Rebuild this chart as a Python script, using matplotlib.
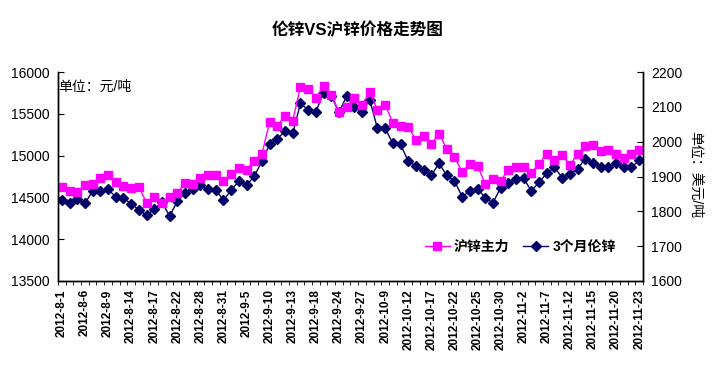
import numpy as np
import matplotlib
matplotlib.use("Agg")
import matplotlib.pyplot as plt

plt.rcParams['font.family'] = ['Liberation Sans', 'Noto Sans CJK SC', 'DejaVu Sans']

tick_labels = ['2012-8-1', '2012-8-6', '2012-8-9', '2012-8-14', '2012-8-17',
               '2012-8-22', '2012-8-28', '2012-8-31', '2012-9-5', '2012-9-10',
               '2012-9-13', '2012-9-18', '2012-9-24', '2012-9-27', '2012-10-9',
               '2012-10-12', '2012-10-17', '2012-10-22', '2012-10-25', '2012-10-30',
               '2012-11-2', '2012-11-7', '2012-11-12', '2012-11-15', '2012-11-20',
               '2012-11-23']

# 沪锌主力, 元/吨 (left axis)
shfe = [14628, 14580, 14565, 14652, 14664, 14736, 14772, 14688, 14640, 14616,
        14628, 14437, 14500, 14430, 14500, 14556, 14672, 14664, 14736, 14772,
        14772, 14700, 14784, 14856, 14832, 14940, 15023, 15406, 15358, 15477,
        15418, 15824, 15800, 15693, 15836, 15729, 15525, 15585, 15689, 15609,
        15761, 15549, 15609, 15394, 15358, 15346, 15190, 15234, 15142, 15262,
        15083, 14983, 14808, 14900, 14876, 14664, 14716, 14700, 14828, 14867,
        14867, 14796, 14900, 15023, 14947, 15007, 14887, 15023, 15115, 15127,
        15055, 15067, 15019, 14975, 15023, 15071]

# 3个月伦锌, 美元/吨 (right axis)
lme = [1832, 1823, 1835, 1823, 1858, 1858, 1864, 1841, 1839, 1821,
       1805, 1789, 1806, 1827, 1786, 1829, 1854, 1864, 1875, 1864,
       1861, 1832, 1861, 1887, 1875, 1901, 1944, 1993, 2009, 2030,
       2024, 2110, 2091, 2086, 2141, 2132, 2084, 2131, 2099, 2086,
       2120, 2038, 2038, 1995, 1992, 1944, 1930, 1918, 1903, 1938,
       1903, 1888, 1842, 1858, 1865, 1839, 1824, 1868, 1880, 1893,
       1895, 1858, 1884, 1909, 1926, 1897, 1907, 1922, 1951, 1938,
       1926, 1926, 1938, 1926, 1926, 1947]

x = np.arange(len(shfe))

fig = plt.figure(figsize=(7.16, 3.69), dpi=100)
ax = fig.add_axes([58 / 716, 1 - 281 / 369, 585 / 716, 209 / 369])
ax2 = ax.twinx()

l1, = ax.plot(x, shfe, color='#FF00FF', marker='s', markersize=5.5, linewidth=1,
              label='沪锌主力')
l2, = ax2.plot(x, lme, color='#000066', marker='D', markersize=5, linewidth=1,
               label='3个月伦锌')
ax.set_zorder(ax2.get_zorder() + 1)
ax.patch.set_visible(False)

ax.set_xlim(-0.5, len(x) - 0.5)
ax.set_ylim(13500, 16000)
ax2.set_ylim(1600, 2200)
ax.set_yticks(np.arange(13500, 16001, 500))
ax2.set_yticks(np.arange(1600, 2201, 100))

ax.set_xticks(np.arange(0, len(x), 3))
ax.set_xticklabels(tick_labels, rotation=90, fontsize=8.5, fontweight='bold')
ax.set_xticks(np.arange(-0.5, len(x), 1), minor=True)
ax.tick_params(axis='x', which='major', length=0, pad=6)
ax.tick_params(axis='x', which='minor', length=3, direction='out')
ax.tick_params(axis='y', direction='in', length=4, labelsize=10, pad=6)
ax2.tick_params(axis='y', direction='in', length=4, labelsize=10, pad=6)

for a in (ax, ax2):
    a.spines['top'].set_visible(False)
    for s in ('left', 'right', 'bottom'):
        a.spines[s].set_linewidth(1)

ax.text(0.0, 0.93, '单位：元/吨', transform=ax.transAxes, fontsize=10,
        ha='left', va='center')
fig.text(695 / 716, 1 - 175 / 369, '单位：美元/吨', rotation=270, fontsize=10,
         ha='center', va='center')
fig.text(0.5, 1 - 30 / 369, '伦锌VS沪锌价格走势图', fontsize=12, fontweight='bold',
         ha='center', va='center')

ax.legend(handles=[l1, l2], loc='center', bbox_to_anchor=(0.79, 0.165), ncol=2,
          frameon=False, prop={'weight': 'bold', 'size': 10},
          handlelength=1.8, columnspacing=1.0, handletextpad=0.3)

fig.savefig('out.png', dpi=100)
